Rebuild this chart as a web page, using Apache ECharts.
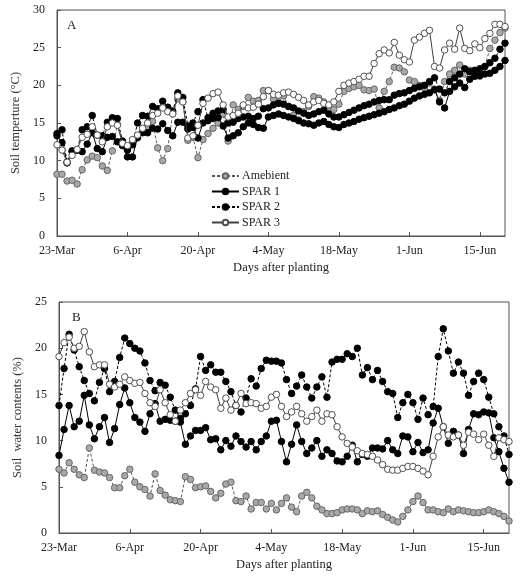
<!DOCTYPE html>
<html><head><meta charset="utf-8">
<script src="https://cdn.jsdelivr.net/npm/echarts@6/dist/echarts.min.js"></script>
<style>html,body{margin:0;padding:0;background:#fff}#c{width:524px;height:584px}</style>
</head><body><div id="c"></div>
<script>
// Tick labels for the day axis (days after 23-Mar, every 14 days)
const dateLabels = ["23-Mar","6-Apr","20-Apr","4-May","18-May","1-Jun","15-Jun"];
const seriesNames = ["Amebient","SPAR 1","SPAR 2","SPAR 3"];

// Panel A: soil temperature (°C), daily values from 23-Mar
const tempAmbient = [8.2,8.2,7.3,7.4,6.9,8.8,10.1,10.6,10.4,9.3,8.7,11.3,14.8,12.6,
 11.5,12.4,13.0,13.8,14.5,15.2,11.7,10.0,11.6,16.3,18.2,17.8,12.7,13.1,
 10.4,12.8,13.6,14.3,15.0,16.2,12.6,17.4,16.8,17.2,18.4,17.9,18.0,19.3,
 19.3,18.2,17.8,18.6,17.2,16.0,15.4,16.5,17.2,18.5,18.3,17.8,16.6,16.8,
 17.5,19.2,19.6,19.8,20.0,19.4,19.3,19.5,17.0,19.2,20.5,22.4,22.3,21.8,
 20.7,20.5,20.0,19.7,20.3,19.5,18.0,20.5,21.5,22.0,22.7,21.5,22.0,21.5,21.2,22.5,24.9,26.0,27.0,27.6];
const tempSpar1 = [13.3,12.4,9.8,11.2,11.4,11.2,12.2,13.7,11.6,11.2,13.1,13.2,12.5,12.0,
 10.5,10.5,13.1,13.7,13.7,14.3,14.2,14.9,14.0,13.3,15.1,15.1,14.2,14.4,
 13.0,15.0,15.3,15.6,15.7,14.6,13.0,13.3,13.7,14.5,15.0,14.8,14.4,14.3,
 15.8,16.0,16.2,16.0,15.8,15.6,15.3,15.0,14.9,14.7,15.0,15.2,14.8,14.5,
 14.4,14.8,15.0,15.2,15.5,15.7,15.9,16.1,16.3,16.5,16.8,17.0,17.3,17.5,
 17.9,18.3,18.6,18.8,19.0,19.4,17.8,17.0,19.2,19.8,20.3,19.7,20.8,21.2,21.3,21.5,21.6,22.0,22.5,23.3];
const tempSpar2 = [13.6,14.1,9.7,11.3,11.4,14.1,14.5,16.0,13.4,13.3,15.1,15.7,15.6,12.6,
 11.4,12.1,15.0,16.0,15.9,17.2,16.9,17.9,17.1,16.6,19.0,18.4,14.6,15.0,
 16.5,18.1,15.7,16.3,16.6,16.8,15.0,15.1,15.6,15.8,15.9,15.6,15.9,16.9,
 17.0,17.4,17.6,17.5,17.2,17.0,16.6,16.3,16.0,16.2,16.5,16.7,16.2,15.8,
 15.8,16.1,16.4,16.7,17.0,17.3,17.5,17.8,18.0,18.1,18.1,18.7,18.9,19.0,
 19.3,19.6,19.8,20.0,20.5,21.0,19.5,19.0,20.5,21.0,21.5,22.2,21.8,22.0,22.2,22.5,23.0,23.6,24.8,25.6];
const tempSpar3 = [12.1,11.4,9.8,10.7,11.5,13.1,13.5,14.5,13.4,12.5,14.5,15.0,14.7,12.3,
 12.0,12.8,13.4,14.3,15.0,16.0,16.3,17.0,16.5,16.2,18.6,17.8,13.0,13.3,
 14.7,17.6,18.3,18.9,19.1,17.4,15.8,16.0,16.3,17.4,17.0,17.1,17.5,18.5,
 19.3,18.8,18.7,19.0,19.1,18.8,18.4,18.0,17.4,17.8,18.0,17.6,17.4,17.8,
 19.2,20.0,20.3,20.5,20.8,21.2,21.2,22.9,24.2,24.7,24.3,25.7,24.0,23.4,
 23.1,26.0,26.4,26.9,27.3,22.5,22.3,24.7,25.6,24.8,27.6,24.9,24.6,25.5,25.0,26.2,26.9,28.1,28.1,27.8];

// Panel B: soil water contents (%), daily values from 23-Mar
const waterAmbient = [6.9,6.5,7.6,6.9,6.3,6.0,9.2,6.8,6.6,6.5,6.0,4.9,4.9,6.2,
 6.9,5.5,5.0,4.7,4.0,6.4,4.6,4.1,3.6,3.5,3.4,6.1,5.8,4.9,
 5.0,5.1,4.5,3.8,4.3,5.3,5.5,3.5,3.4,4.0,2.6,3.3,3.3,2.6,
 3.2,2.5,3.2,3.8,2.8,2.3,4.0,4.4,3.8,2.9,2.5,2.1,2.1,2.2,
 2.5,2.6,2.6,2.5,2.1,2.4,2.3,2.4,2.0,1.7,1.4,1.2,1.8,2.5,
 3.4,4.0,3.3,2.5,2.5,2.3,2.2,2.6,2.3,2.5,2.4,2.3,2.2,2.2,2.3,2.5,2.3,2.1,1.8,1.3];
const waterSpar1 = [8.4,11.2,13.8,11.5,12.1,14.9,11.7,10.2,11.5,12.5,9.8,11.3,13.9,15.7,
 14.1,12.5,12.0,11.0,12.9,14.0,12.1,12.3,12.2,12.1,12.0,9.6,10.5,11.1,
 11.1,11.4,10.1,10.2,9.0,10.0,9.4,10.5,9.9,9.3,9.9,9.0,9.9,10.5,
 12.1,12.2,9.9,7.7,9.6,11.7,9.9,8.6,9.2,10.0,8.3,9.0,8.6,7.8,
 7.7,8.3,9.5,7.7,8.5,8.3,9.2,9.2,9.1,10.0,9.0,8.6,10.5,10.4,
 8.8,9.8,8.7,9.0,11.9,13.5,11.5,9.7,11.0,10.6,8.6,11.2,12.9,12.8,13.1,13.0,10.3,8.8,7.0,5.5];
const waterSpar2 = [13.8,17.8,21.5,19.8,18.0,16.5,15.1,14.3,16.3,17.8,15.3,16.4,19.0,21.1,
 20.5,20.0,19.7,18.4,16.5,15.4,16.3,16.0,14.7,13.3,12.4,12.9,13.8,15.6,
 19.1,17.6,18.2,17.4,17.4,16.4,15.3,13.8,13.1,14.6,16.7,15.9,17.8,18.7,
 18.6,18.6,18.4,16.6,15.1,15.9,17.1,15.8,14.6,15.8,16.9,14.7,18.5,18.8,
 18.8,19.4,19.1,20.0,17.1,17.9,16.6,17.6,16.4,15.3,15.1,12.5,14.1,15.0,
 14.1,12.3,14.6,12.8,13.7,19.1,22.1,19.7,17.3,18.5,17.3,14.9,16.4,17.3,16.6,14.7,12.9,11.5,10.5,8.5];
const waterSpar3 = [19.1,20.6,21.2,20.0,20.2,21.8,19.6,18.0,18.2,18.2,16.1,15.8,16.1,16.9,
 16.5,16.2,16.3,15.1,14.1,13.7,15.5,14.1,12.8,12.1,13.3,14.1,15.1,15.5,
 14.9,16.4,15.8,15.5,13.5,14.6,13.3,13.8,15.1,14.0,14.1,14.0,13.5,13.7,
 14.7,15.0,13.7,12.6,13.1,13.7,12.9,12.1,12.6,13.3,12.1,12.9,12.8,11.5,
 10.4,9.7,9.3,8.9,8.6,8.5,8.3,7.9,7.4,6.9,6.8,6.8,7.0,7.2,
 7.2,7.0,6.7,6.3,8.3,10.4,11.5,10.6,10.4,10.6,9.5,10.9,10.7,10.1,10.7,9.5,8.3,10.3,10.1,9.9];

const FONT = '"Liberation Serif","Times New Roman",serif';
const AX = '#555';
const styles = [
  {fill:'#a8a8a8', border:'#666', line:'#555', type:[3,2]},
  {fill:'#000', border:'#000', line:'#000', type:'solid'},
  {fill:'#000', border:'#000', line:'#000', type:[3,2]},
  {fill:'#fff', border:'#505050', line:'#404040', type:'solid'}
];
function toXY(arr){ return arr.map((v,i)=>[i,v]); }
function mkSeries(arrs, gi){
  return arrs.map((a,k)=>({
    name: seriesNames[k], type:'line', xAxisIndex:gi, yAxisIndex:gi,
    data: toXY(a), symbol:'circle', symbolSize:6.5, showSymbol:true,
    lineStyle:{color:styles[k].line, width:1, type:styles[k].type},
    itemStyle:{color:styles[k].fill, borderColor:styles[k].border, borderWidth:1},
    emphasis:{disabled:true}, animation:false, z: 2+k
  }));
}
function xAxis(gi){
  return {type:'value', gridIndex:gi, min:0, max:89, interval:14,
    name:'Days after planting', nameLocation:'middle', nameGap:25,
    nameTextStyle:{fontFamily:FONT, fontSize:12.5, color:'#222'},
    axisLine:{lineStyle:{color:AX}}, axisTick:{inside:true, length:4, lineStyle:{color:AX}},
    splitLine:{show:false}, axisLabel:{fontFamily:FONT, fontSize:12, color:'#222', margin:9, showMaxLabel:false,
      formatter:v=> (v%14===0 ? dateLabels[v/14] : '')}};
}
function yAxis(gi, max, name){
  return {type:'value', gridIndex:gi, min:0, max:max, interval:5,
    name:name, nameLocation:'middle', nameGap:26,
    nameTextStyle:{fontFamily:FONT, fontSize:12.5, color:'#333'},
    axisLine:{show:true, lineStyle:{color:AX}}, axisTick:{inside:true, length:4, lineStyle:{color:AX}},
    splitLine:{show:false}, axisLabel:{fontFamily:FONT, fontSize:12, color:'#222', margin:12}};
}
const chart = echarts.init(document.getElementById('c'), null, {renderer:'canvas'});
chart.setOption({
  animation:false,
  backgroundColor:'#fff',
  grid:[
    {left:57, right:19, top:10, height:226, show:true, borderColor:AX, borderWidth:1},
    {left:59, right:15, top:302, height:231, show:true, borderColor:AX, borderWidth:1}
  ],
  xAxis:[xAxis(0), xAxis(1)],
  yAxis:[yAxis(0,30,'Soil temperture (°C)'), yAxis(1,25,'Soil  water contents (%)')],
  legend:{orient:'vertical', left:206, top:164, itemWidth:27, itemHeight:7, itemGap:1.5,
    data:seriesNames, textStyle:{fontFamily:FONT, fontSize:12, color:'#222', lineHeight:14, padding:[0,0,0,-2]},
    selectedMode:false},
  graphic:[
    {type:'text', left:67, top:19, style:{text:'A', font:'13px '+FONT, fill:'#222'}},
    {type:'text', left:72, top:311, style:{text:'B', font:'13px '+FONT, fill:'#222'}}
  ],
  series:[...mkSeries([tempAmbient,tempSpar1,tempSpar2,tempSpar3],0),
          ...mkSeries([waterAmbient,waterSpar1,waterSpar2,waterSpar3],1)]
});
</script></body></html>
